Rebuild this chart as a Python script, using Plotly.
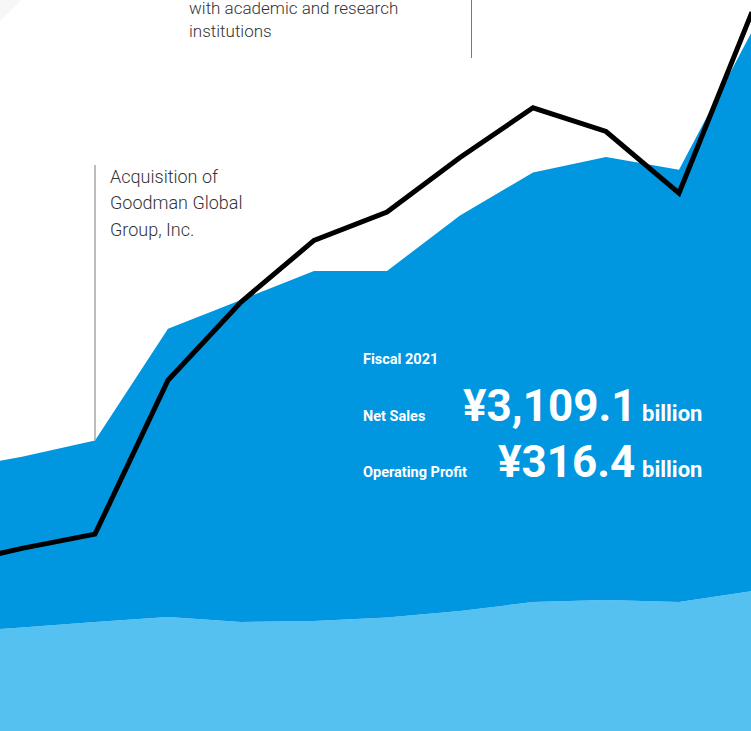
import plotly.graph_objects as go

W, H = 751, 731

# fiscal years and values (billion yen)
years = [2010, 2011, 2012, 2013, 2014, 2015, 2016, 2017, 2018, 2019, 2020, 2021]
net_sales = [1160.3, 1218.7, 1290.9, 1787.4, 1915.0, 2043.7, 2043.9, 2290.6, 2481.1, 2550.3, 2493.4, 3109.1]
lower_band = [437, 460, 484, 506, 484, 489, 504, 533, 573, 582, 573, 622]
op_profit = [83, 90, 96, 161, 194, 220, 232, 255, 276, 266, 240, 316.4]

DARK = "#0096e0"
LIGHT = "#55c1f0"


def px(x):
    return x / W


def py(y):
    return 1 - y / H


fig = go.Figure()
fig.add_trace(go.Scatter(x=years, y=lower_band, mode="none", fill="tozeroy",
                         fillcolor=LIGHT, hoverinfo="skip"))
fig.add_trace(go.Scatter(x=years, y=net_sales, mode="none", fill="tonexty",
                         fillcolor=DARK, hoverinfo="skip"))
fig.add_trace(go.Scatter(x=years, y=op_profit, mode="lines", yaxis="y2",
                         line=dict(color="black", width=5), hoverinfo="skip"))

# faint corner shading, top left
fig.add_shape(type="circle", xref="paper", yref="paper", layer="below",
              x0=px(-498), x1=px(98), y0=py(98), y1=py(-498),
              fillcolor="#f7f7f7", line=dict(width=0))

# milestone markers
fig.add_shape(type="line", xref="x", yref="paper", x0=2012, x1=2012,
              y0=py(440), y1=py(165), line=dict(color="#7a7a7a", width=1))
fig.add_shape(type="line", xref="paper", yref="paper", x0=px(471.5), x1=px(471.5),
              y0=py(58), y1=1.0, line=dict(color="#7a7a7a", width=1))

note_font = dict(family="Roboto", size=18, color="#333333", weight=300)
notes = [
    ("Acquisition of", 108, 176),
    ("Goodman Global", 108, 202.5),
    ("Group, Inc.", 108, 229),
]
for txt, x, y in notes:
    fig.add_annotation(text=txt, x=px(x), y=py(y), xref="paper", yref="paper",
                       xanchor="left", yanchor="middle", showarrow=False, font=note_font)
top_font = dict(family="Roboto", size=17, color="#333333", weight=300)
for txt, y in [("with academic and research", 8), ("institutions", 31)]:
    fig.add_annotation(text=txt, x=px(187), y=py(y), xref="paper", yref="paper",
                       xanchor="left", yanchor="middle", showarrow=False, font=top_font)

# fiscal 2021 headline
small = dict(family="Roboto", size=14.5, color="white", weight=700)
big = dict(family="Roboto", size=44, color="white", weight=700)
unit = dict(family="Roboto", size=22, color="white", weight=700)
fig.add_annotation(text="Fiscal 2021", x=px(361), y=py(359), xref="paper", yref="paper",
                   xanchor="left", yanchor="middle", showarrow=False, font=small)
fig.add_annotation(text="Net Sales", x=px(361), y=py(416), xref="paper", yref="paper",
                   xanchor="left", yanchor="middle", showarrow=False, font=small)
fig.add_annotation(text="Operating Profit", x=px(361), y=py(472), xref="paper", yref="paper",
                   xanchor="left", yanchor="middle", showarrow=False, font=small)
fig.add_annotation(text="¥3,109.1", x=px(638), y=py(406), xref="paper", yref="paper",
                   xanchor="right", yanchor="middle", showarrow=False, font=big)
fig.add_annotation(text="¥316.4", x=px(637), y=py(462), xref="paper", yref="paper",
                   xanchor="right", yanchor="middle", showarrow=False, font=big)
fig.add_annotation(text="billion", x=px(640), y=py(413), xref="paper", yref="paper",
                   xanchor="left", yanchor="middle", showarrow=False, font=unit)
fig.add_annotation(text="billion", x=px(640), y=py(469), xref="paper", yref="paper",
                   xanchor="left", yanchor="middle", showarrow=False, font=unit)

fig.update_layout(
    width=W, height=H,
    margin=dict(l=0, r=0, t=0, b=0),
    paper_bgcolor="white", plot_bgcolor="rgba(0,0,0,0)",
    showlegend=False, hovermode=False,
    xaxis=dict(range=[2010 + 51 / 73, 2010 + 802 / 73], visible=False, fixedrange=True),
    yaxis=dict(range=[0, 3248], visible=False, fixedrange=True),
    yaxis2=dict(range=[12.9, 321.5], overlaying="y", visible=False, fixedrange=True),
)

fig.write_html("out.html", config={"displayModeBar": False},
               post_script="document.body.style.margin='0';")
